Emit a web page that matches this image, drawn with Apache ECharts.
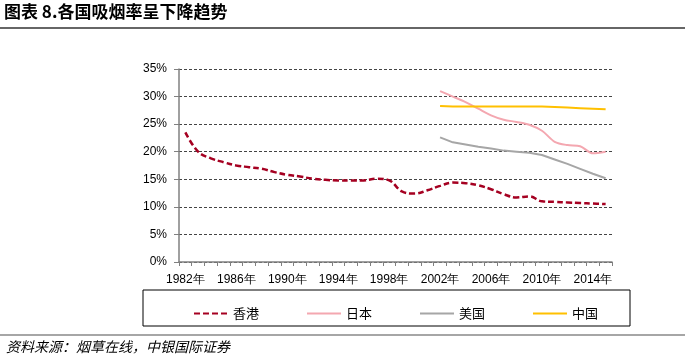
<!DOCTYPE html>
<html><head><meta charset="utf-8">
<script src="https://cdn.jsdelivr.net/npm/echarts@6/dist/echarts.min.js"></script>
<style>html,body{margin:0;padding:0;background:#fff}#c{width:685px;height:359px}</style>
</head><body><div id="c"></div>
<script>
var years = [];
for (var y = 1982; y <= 2015; y++) years.push(y + '年');
var yTicks = ['0%','5%','10%','15%','20%','25%','30%','35%'];
var hongkong = [23.5,20.0,18.8,18.1,17.5,17.2,16.9,16.3,15.8,15.5,15.1,14.9,14.8,14.8,14.8,15.1,14.8,12.8,12.4,13.0,13.8,14.4,14.3,13.9,13.2,12.3,11.7,11.9,11.0,10.9,10.8,10.7,10.6,10.5];
var japan = [null,null,null,null,null,null,null,null,null,null,null,null,null,null,null,null,null,null,null,null,31.0,30.0,29.0,27.8,26.6,25.8,25.4,24.9,23.8,21.8,21.2,21.0,19.7,20.0];
var usa = [null,null,null,null,null,null,null,null,null,null,null,null,null,null,null,null,null,null,null,null,22.6,21.7,21.3,20.9,20.6,20.2,20.0,19.8,19.4,18.6,17.8,16.9,16.0,15.2];
var china = [null,null,null,null,null,null,null,null,null,null,null,null,null,null,null,null,null,null,null,null,28.3,28.2,28.2,28.2,28.2,28.2,28.2,28.2,28.2,28.1,28.0,27.9,27.8,27.7];
var names = ['香港','日本','美国','中国'];

var chart = echarts.init(document.getElementById('c'));
chart.setOption({
  animation: false,
  backgroundColor: '#fff',
  grid: {left: 179, right: 73, top: 69, bottom: 97},
  xAxis: {
    type: 'category', data: years, boundaryGap: true,
    axisLine: {lineStyle: {color: '#808080', width: 1.5}},
    axisTick: {show: true, length: 4, interval: 0, lineStyle: {color: '#808080'}},
    axisLabel: {interval: 3, margin: 12, color: '#000', fontSize: 12, fontFamily: 'Liberation Sans'},
    splitLine: {show: false}
  },
  yAxis: {
    type: 'value', min: 0, max: 35, interval: 5,
    axisLine: {show: true, lineStyle: {color: '#808080', width: 1.5}},
    axisTick: {show: true, length: 5, lineStyle: {color: '#808080'}},
    axisLabel: {margin: 12, color: '#000', fontSize: 12, fontFamily: 'Liberation Sans',
      formatter: function (v) { return yTicks[Math.round(v / 5)]; }},
    splitLine: {show: true, lineStyle: {color: '#444', type: [3, 2], width: 1}}
  },
  legend: {
    data: names, left: 188, top: 302, itemWidth: 34, itemHeight: 14, itemGap: 47,
    itemStyle: {opacity: 0},
    textStyle: {fontSize: 13, color: '#000', fontFamily: 'Noto Sans CJK SC'}
  },
  graphic: [
    {type: 'rect', shape: {x: 143, y: 290, width: 487, height: 36}, style: {fill: 'none', stroke: '#000', lineWidth: 1}},
    {type: 'line', shape: {x1: 0, y1: 28, x2: 685, y2: 28}, style: {stroke: '#333', lineWidth: 1.5}},
    {type: 'line', shape: {x1: 0, y1: 335, x2: 685, y2: 335}, style: {stroke: '#888', lineWidth: 1.5}},
    {type: 'text', left: 4, top: 3, style: {text: '图表 8.各国吸烟率呈下降趋势', font: 'bold 17px "Noto Sans CJK SC"', fill: '#000'}},
    {type: 'text', left: 6, top: 340, style: {text: '资料来源：烟草在线，中银国际证券', font: 'italic 14px "Noto Sans CJK SC"', fill: '#000'}}
  ],
  series: [
    {name: '香港', type: 'line', data: hongkong, smooth: 0.4, symbol: 'none',
      lineStyle: {color: '#A50021', width: 2.5, type: [6, 3]}, itemStyle: {color: '#A50021'}},
    {name: '日本', type: 'line', data: japan, smooth: 0.3, symbol: 'none',
      lineStyle: {color: '#F4A7B0', width: 2}, itemStyle: {color: '#F4A7B0'}},
    {name: '美国', type: 'line', data: usa, symbol: 'none',
      lineStyle: {color: '#A6A6A6', width: 2}, itemStyle: {color: '#A6A6A6'}},
    {name: '中国', type: 'line', data: china, symbol: 'none',
      lineStyle: {color: '#FFC000', width: 2}, itemStyle: {color: '#FFC000'}}
  ]
});
</script></body></html>
